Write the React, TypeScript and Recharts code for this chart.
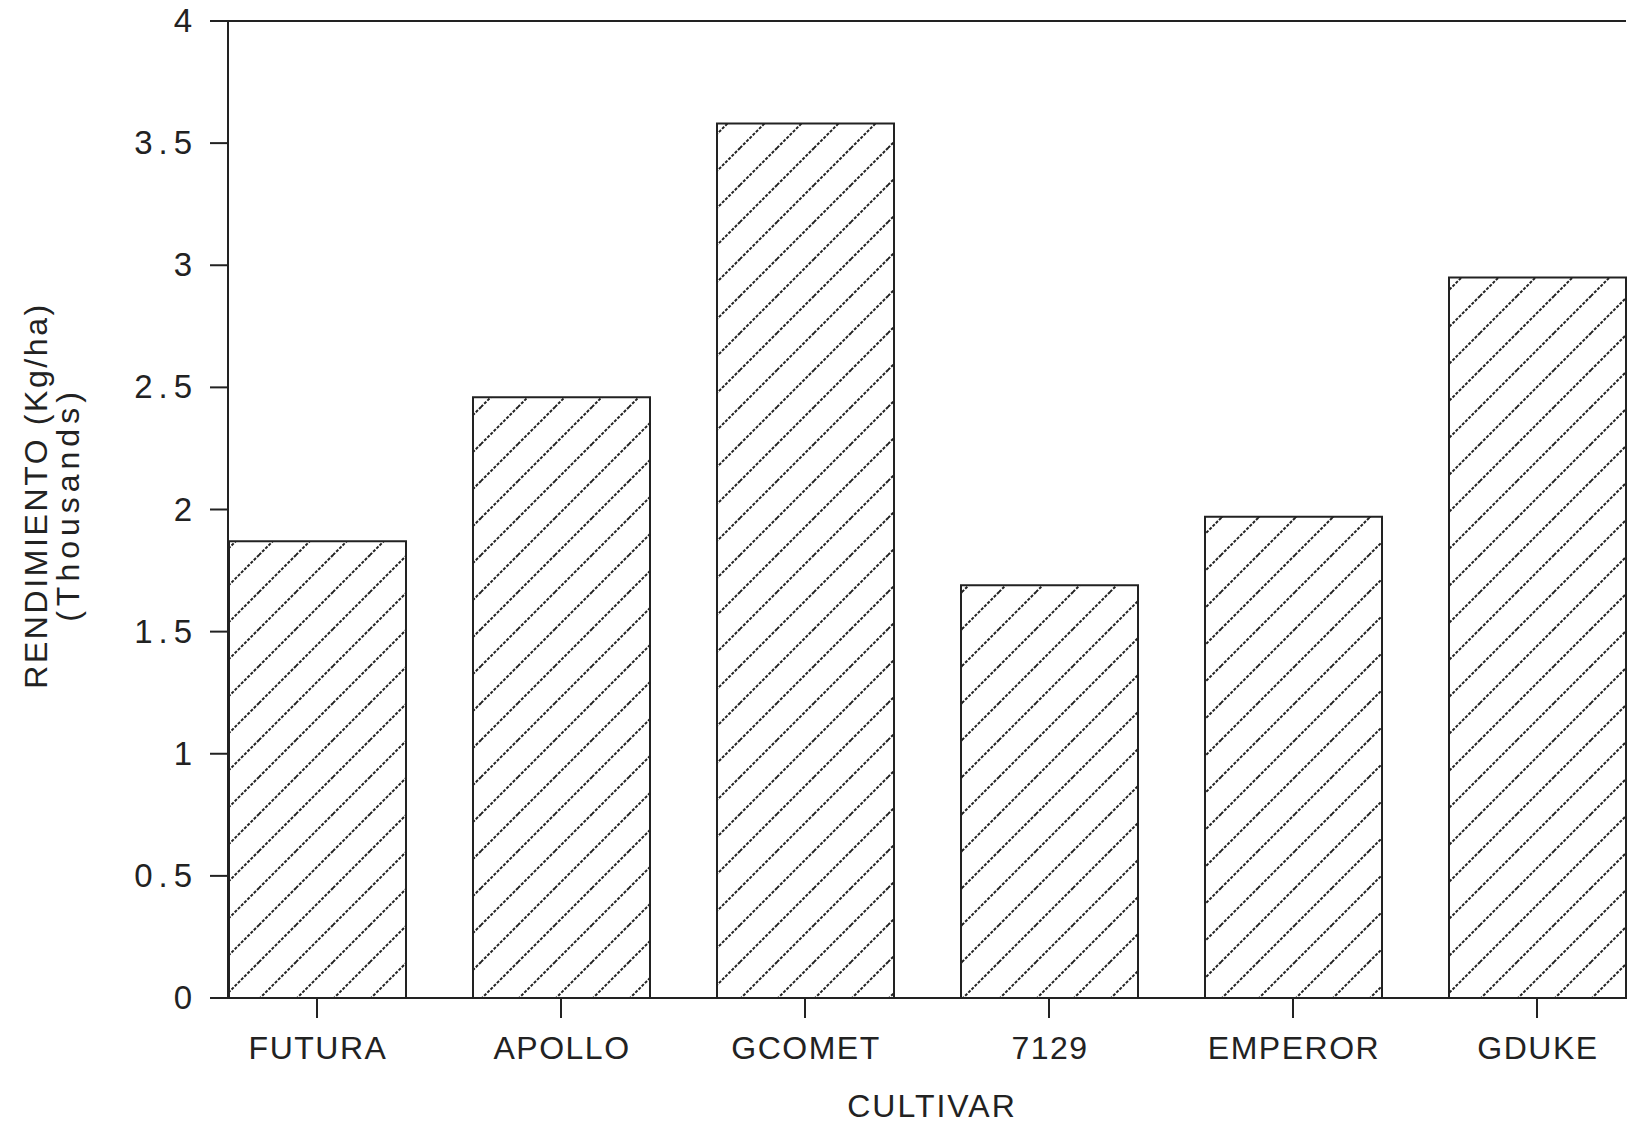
import React from "react";
import { BarChart, Bar, XAxis, YAxis, ReferenceLine } from "recharts";

// yield per cultivar, in thousands of kg/ha
const cultivars = ["FUTURA", "APOLLO", "GCOMET", "7129", "EMPEROR", "GDUKE"];
const rendimiento = [1.87, 2.46, 3.58, 1.69, 1.97, 2.95];
const yTicks = [0, 0.5, 1, 1.5, 2, 2.5, 3, 3.5, 4];

const data = cultivars.map((c, i) => ({ cultivar: c, rendimiento: rendimiento[i] }));

const INK = "#222";
const FONT = "'Liberation Sans', Arial, sans-serif";

function XTick(props: any) {
  const { x, y, payload } = props;
  return (
    <text
      x={x + 1}
      y={y + 39}
      textAnchor="middle"
      fontFamily={FONT}
      fontSize={32}
      letterSpacing={1.5}
      fill={INK}
    >
      {payload.value}
    </text>
  );
}

function YTick(props: any) {
  const { x, y, payload } = props;
  return (
    <text
      x={x - 10}
      y={y + 11}
      textAnchor="end"
      fontFamily={FONT}
      fontSize={33}
      letterSpacing={6}
      fill={INK}
    >
      {String(payload.value)}
    </text>
  );
}

function XLabel(props: any) {
  const vb = props.viewBox;
  return (
    <text
      x={vb.x + vb.width / 2 + 5}
      y={vb.y + 119}
      textAnchor="middle"
      fontFamily={FONT}
      fontSize={32}
      letterSpacing={2}
      fill={INK}
    >
      CULTIVAR
    </text>
  );
}

function YLabel(props: any) {
  const vb = props.viewBox;
  const cy = vb.y + vb.height / 2 - 14;
  return (
    <g fontFamily={FONT} fill={INK} fontSize={32}>
      <text
        x={47}
        y={cy}
        transform={`rotate(-90 47 ${cy})`}
        textAnchor="middle"
        letterSpacing={2.6}
      >
        RENDIMIENTO (Kg/ha)
      </text>
      <text
        x={79}
        y={cy + 9}
        transform={`rotate(-90 79 ${cy + 9})`}
        textAnchor="middle"
        letterSpacing={5}
      >
        (Thousands)
      </text>
    </g>
  );
}

export default function App() {
  return (
    <div style={{ width: 1627, height: 1128, background: "#fff" }}>
      <style>{`body{margin:0;background:#fff}`}</style>
      <BarChart
        width={1627}
        height={1128}
        data={data}
        margin={{ top: 21, right: 1, bottom: 0, left: 0 }}
      >
        <defs>
          <pattern id="hatch" patternUnits="userSpaceOnUse" width={37} height={37}>
            <path
              d="M0,37 L37,0 M-5,5 L5,-5 M32,42 L42,32"
              stroke={INK}
              strokeWidth={2}
              strokeDasharray="3 1.5"
            />
          </pattern>
        </defs>
        <XAxis
          dataKey="cultivar"
          interval={0}
          height={130}
          padding={{ left: -33, right: -33 }}
          tickSize={20}
          tickLine={{ stroke: INK, strokeWidth: 2 }}
          axisLine={{ stroke: INK, strokeWidth: 2 }}
          tick={<XTick />}
          label={{ content: XLabel }}
        />
        <YAxis
          width={228}
          domain={[0, 4]}
          ticks={yTicks}
          tickSize={18}
          tickLine={{ stroke: INK, strokeWidth: 2 }}
          axisLine={{ stroke: INK, strokeWidth: 2 }}
          tick={<YTick />}
          label={{ content: YLabel }}
        />
        <YAxis
          yAxisId="right"
          orientation="right"
          width={0}
          domain={[0, 4]}
          tick={false}
          tickLine={false}
          axisLine={{ stroke: INK, strokeWidth: 2 }}
        />
        <ReferenceLine y={4} stroke={INK} strokeWidth={2} />
        <Bar
          dataKey="rendimiento"
          barSize={177}
          fill="url(#hatch)"
          stroke={INK}
          strokeWidth={2}
          isAnimationActive={false}
        />
      </BarChart>
    </div>
  );
}
